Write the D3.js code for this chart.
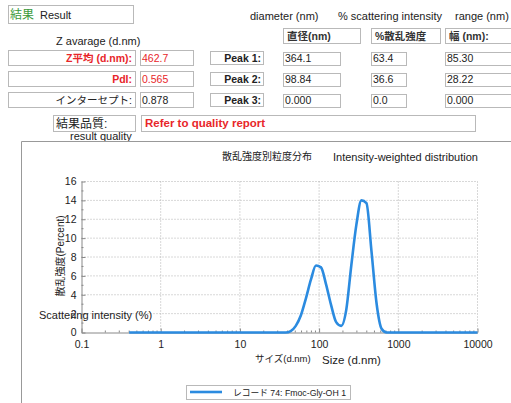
<!DOCTYPE html>
<html>
<head>
<meta charset="utf-8">
<script src="https://cdn.jsdelivr.net/npm/d3@7"></script>
<style>
  body { margin: 0; background: #fff; }
  svg { display: block; }
  text { font-family: "Liberation Sans", Arial, "Noto Sans CJK JP", sans-serif; }
</style>
</head>
<body>
<svg id="chart" width="511" height="403"></svg>
<script>
// Size distribution bins (d.nm) and scattering intensity (%)
const sizes = [0.4, 0.4632, 0.5365, 0.6213, 0.7195, 0.8332, 0.9649, 1.117, 1.294, 1.499,
  1.736, 2.01, 2.328, 2.696, 3.122, 3.615, 4.187, 4.849, 5.615, 6.503,
  7.531, 8.721, 10.1, 11.7, 13.54, 15.69, 18.17, 21.04, 24.36, 28.21,
  32.67, 37.84, 43.82, 50.75, 58.77, 68.06, 78.82, 91.28, 105.7, 122.4,
  141.8, 164.2, 190.1, 220.2, 255.0, 295.3, 342.0, 396.1, 458.7, 531.2,
  615.1, 712.4, 825.0, 955.4, 1106, 1281, 1484, 1718, 1990, 2305,
  2669, 3091, 3580, 4145, 4801, 5560, 6439, 7456, 8635, 10000];
const intensity = [0, 0, 0, 0, 0, 0, 0, 0, 0, 0,
  0, 0, 0, 0, 0, 0, 0, 0, 0, 0,
  0, 0, 0, 0, 0, 0, 0, 0, 0, 0,
  0, 0, 0.15, 0.7, 1.8, 3.6, 5.6, 7.1, 6.9, 5.1,
  2.9, 1.1, 0.7, 2.4, 7.1, 11.4, 14.0, 13.7, 8.6, 3.1,
  0.4, 0, 0, 0, 0, 0, 0, 0, 0, 0,
  0, 0, 0, 0, 0, 0, 0, 0, 0, 0];
const xTickValues = [0.1, 1, 10, 100, 1000, 10000];
const xTickLabels = ["0.1", "1", "10", "100", "1000", "10000"];
const yTickValues = [0, 2, 4, 6, 8, 10, 12, 14, 16];

// Result table
const summaryLabels = ["Z平均 (d.nm):", "PdI:", "インターセプト:"];
const summaryValues = ["462.7", "0.565", "0.878"];
const peakLabels = ["Peak 1:", "Peak 2:", "Peak 3:"];
const peakDiameter = ["364.1", "98.84", "0.000"];
const peakIntensity = ["63.4", "36.6", "0.0"];
const peakWidth = ["85.30", "28.22", "0.000"];
const columnHeaders = ["直径(nm)", "%散乱強度", "幅 (nm):"];
const seriesName = "レコード 74: Fmoc-Gly-OH 1";

const svg = d3.select("#chart");
const RED = "#e8262a", GREEN = "#3c9a3c", BOX = "#b9b9b9", BLUE = "#2b8be0";

function box(x, y, w, h) {
  svg.append("rect").attr("x", x + 0.5).attr("y", y + 0.5).attr("width", w).attr("height", h)
    .attr("fill", "#fff").attr("stroke", BOX).attr("stroke-width", 1);
}
function txt(x, y, s, opt = {}) {
  return svg.append("text").attr("x", x).attr("y", y).text(s)
    .attr("font-size", opt.size || 11)
    .attr("fill", opt.fill || "#222")
    .attr("font-weight", opt.bold ? "bold" : "normal")
    .attr("text-anchor", opt.anchor || "start");
}

// ---- header ----
box(8, 5, 125, 18);
txt(10, 19, "結果", { fill: GREEN, size: 12 });
txt(40, 19, "Result", { size: 11 });
txt(250, 20, "diameter (nm)");
txt(338, 20, "% scattering intensity");
txt(455, 20, "range (nm)");
txt(56, 45, "Z avarage (d.nm)");

// column headers
const colX = [283, 371, 445];
const colW = [77, 69, 70];
columnHeaders.forEach((h, i) => {
  box(colX[i], 28, colW[i], 15);
  txt(colX[i] + 4, 40, h, { size: 10.5, bold: true, fill: "#333" });
});

// rows
const rowY = [50, 71, 92];
const valW = [57, 35, 70];
rowY.forEach((y, i) => {
  box(8, y, 127, 15);
  txt(132, y + 12, summaryLabels[i], { anchor: "end", bold: i < 2, fill: i < 2 ? RED : "#222", size: 10.5 });
  box(140, y, 53, 15);
  txt(142, y + 12, summaryValues[i], { fill: i < 2 ? RED : "#222", size: 10.5 });
  box(210, y + 1, 53, 13);
  txt(261, y + 12, peakLabels[i], { anchor: "end", bold: true, size: 10.5 });
  const vals = [peakDiameter[i], peakIntensity[i], peakWidth[i]];
  vals.forEach((v, j) => {
    box(colX[j], y + 2, valW[j], 13);
    txt(colX[j] + 2, y + 12, v, { size: 10.5 });
  });
});

box(53, 115, 82, 16);
txt(56, 128, "結果品質:", { size: 12 });
txt(70, 140, "result quality", { size: 11 });
box(141, 115, 334, 16);
txt(145, 127, "Refer to quality report", { fill: RED, bold: true, size: 11.5 });

// ---- chart panel ----
svg.append("path").attr("d", "M21.5,403 V141.5 H511")
  .attr("fill", "none").attr("stroke", "#999").attr("stroke-width", 1);

txt(222, 160, "散乱強度別粒度分布", { size: 10 });
txt(333, 161, "Intensity-weighted distribution", { size: 11 });

const x = d3.scaleLog().domain([0.1, 10000]).range([81.5, 477.5]);
const y = d3.scaleLinear().domain([0, 16]).range([332.5, 181.5]);

const grid = svg.append("g").attr("stroke", "#b0b0b0").attr("stroke-width", 1)
  .attr("stroke-dasharray", "1,2");
xTickValues.slice(1).forEach(v => {
  grid.append("line").attr("x1", x(v)).attr("x2", x(v)).attr("y1", y(0)).attr("y2", y(16));
});
yTickValues.slice(1).forEach(v => {
  grid.append("line").attr("x1", x(0.1)).attr("x2", x(10000)).attr("y1", y(v)).attr("y2", y(v));
});

// axes
const minorX = [];
for (let d = 0.1; d < 10000; d *= 10) for (let k = 2; k <= 9; k++) minorX.push(d * k);
const xAxis = svg.append("g").attr("transform", `translate(0,${y(0)})`)
  .call(d3.axisBottom(x).tickValues(xTickValues).tickFormat((d, i) => xTickLabels[i])
    .tickSizeInner(-4).tickSizeOuter(0).tickPadding(8));
xAxis.append("g").selectAll("line").data(minorX).join("line")
  .attr("x1", d => x(d)).attr("x2", d => x(d)).attr("y1", 0).attr("y2", -2);
const yAxis = svg.append("g").attr("transform", `translate(${x(0.1)},0)`)
  .call(d3.axisLeft(y).tickValues(yTickValues).tickSizeInner(-4).tickSizeOuter(0).tickPadding(5));
yAxis.append("g").selectAll("line").data(d3.range(1, 16, 2)).join("line")
  .attr("x1", 0).attr("x2", 2).attr("y1", d => y(d)).attr("y2", d => y(d));
[xAxis, yAxis].forEach(a => {
  a.selectAll("path, line").attr("stroke", "#888");
  a.selectAll("text").attr("font-size", 10.5).attr("fill", "#222")
    .attr("font-family", "'Liberation Sans', Arial, sans-serif");
});

// distribution curve
const line = d3.line().x((d, i) => x(sizes[i])).y(d => y(d)).curve(d3.curveMonotoneX);
svg.append("path").datum(intensity).attr("d", line)
  .attr("fill", "none").attr("stroke", BLUE).attr("stroke-width", 2.6)
  .attr("stroke-linejoin", "round").attr("stroke-linecap", "butt");

// axis titles
txt(0, 0, "散乱強度(Percent)", { size: 10, anchor: "middle" })
  .attr("transform", "translate(64,256) rotate(-90)");
txt(39, 319, "Scattering intensity (%)", { size: 11 });
txt(255, 362, "サイズ(d.nm)", { size: 9.5 });
txt(322, 364, "Size (d.nm)", { size: 11.5 });

// legend
box(186, 385, 164, 14);
svg.append("line").attr("x1", 190).attr("x2", 222).attr("y1", 392).attr("y2", 392)
  .attr("stroke", BLUE).attr("stroke-width", 2.6);
txt(233, 396, seriesName, { size: 9 })
  .attr("textLength", 113).attr("lengthAdjust", "spacingAndGlyphs");
</script>
</body>
</html>
